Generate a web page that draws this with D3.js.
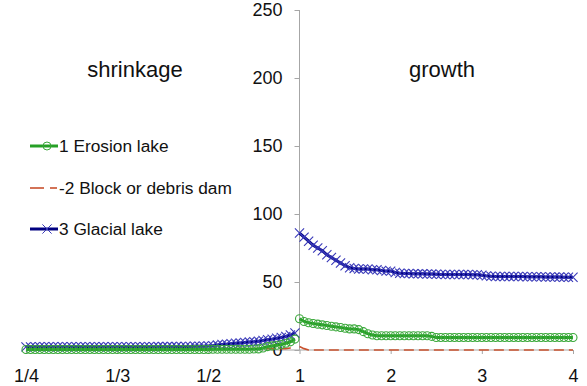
<!DOCTYPE html>
<html>
<head>
<meta charset="utf-8">
<script src="https://cdn.jsdelivr.net/npm/d3@7"></script>
<style>
  body { margin: 0; background: #fff; }
  svg { display: block; font-family: "Liberation Sans", Arial, sans-serif; }
</style>
</head>
<body>
<svg id="chart" width="587" height="386"></svg>
<script>
// x is drawn on a folded scale: ratio r >= 1 at r, ratio r < 1 at 2 - 1/r
var xTicks = [-2, -1, 0, 1, 2, 3, 4]
var xTickLabels = ["1/4", "1/3", "1/2", "1", "2", "3", "4"]
var yTicks = [0, 50, 100, 150, 200, 250]

// shrinkage side, t = -2 .. 0.95 step 0.05 (60 points)
var leftT = d3.range(60).map(function(i) { return -2 + i * 0.05 })
// growth side, t = 1 .. 4 step 0.05 (61 points)
var rightT = d3.range(61).map(function(i) { return 1 + i * 0.05 })

var erosionLeft = [
  0.4, 0.4, 0.4, 0.4, 0.4, 0.4, 0.4, 0.4, 0.4, 0.4,
  0.4, 0.4, 0.4, 0.4, 0.4, 0.4, 0.4, 0.4, 0.4, 0.4,
  0.4, 0.4, 0.4, 0.4, 0.4, 0.4, 0.4, 0.4, 0.4, 0.4,
  0.4, 0.4, 0.4, 0.4, 0.4, 0.4, 0.4, 0.4, 0.4, 0.4,
  0.4, 0.5, 0.5, 0.5, 0.5, 0.5, 0.5, 0.6, 0.6, 0.6,
  0.7, 0.8, 1.5, 2.5, 3, 3.5, 4, 5, 6, 8
]
var blockLeft = [
  0, 0, 0, 0, 0, 0, 0, 0, 0, 0,
  0, 0, 0, 0, 0, 0, 0, 0, 0, 0,
  0, 0, 0, 0, 0, 0, 0, 0, 0, 0,
  0, 0, 0, 0, 0, 0, 0, 0, 0, 0,
  0, 1, 1, 1, 1, 1, 1, 1, 1, 1,
  1, 1, 1, 1, 1, 1, 1, 1, 1.5, 2
]
var glacialLeft = [
  2.3, 2.3, 2.4, 2.4, 2.4, 2.4, 2.4, 2.4, 2.4, 2.4,
  2.4, 2.4, 2.4, 2.4, 2.4, 2.4, 2.4, 2.4, 2.4, 2.4,
  2.4, 2.4, 2.4, 2.4, 2.4, 2.4, 2.4, 2.4, 2.4, 2.5,
  2.5, 2.5, 2.5, 2.5, 2.6, 2.6, 2.6, 2.7, 2.7, 2.8,
  2.9, 3.2, 3.6, 4, 4.3, 4.6, 4.9, 5.2, 5.5, 5.8,
  6.1, 6.5, 7, 7.5, 8, 8.6, 9.2, 10, 11, 12.5
]

var erosionRight = [
  23, 21, 20, 19.5, 19, 18.5, 18, 17.5, 17, 16.5,
  16, 15.5, 15.5, 15, 13.5, 12, 11, 10.5, 10.5, 10.5,
  10.5, 10.5, 10.5, 10.5, 10.5, 10.5, 10.5, 10.5, 10.5, 10,
  9.2, 9.2, 9.2, 9.2, 9.2, 9.2, 9.2, 9.2, 9.2, 9.2,
  9.2, 9.2, 9.2, 9.2, 9.2, 9.2, 9.2, 9.2, 9.2, 9.2,
  9.2, 9.2, 9.2, 9.2, 9.2, 9.2, 9.2, 9.2, 9.2, 9.2,
  9.2
]
var blockRight = [
  2.5, 1, 0, 0, 0, 0, 0, 0, 0, 0,
  0, 0, 0, 0, 0, 0, 0, 0, 0, 0,
  0, 0, 0, 0, 0, 0, 0, 0, 0, 0,
  0, 0, 0, 0, 0, 0, 0, 0, 0, 0,
  0, 0, 0, 0, 0, 0, 0, 0, 0, 0,
  0, 0, 0, 0, 0, 0, 0, 0, 0, 0,
  0
]
var glacialRight = [
  86, 83, 80, 77, 75, 73, 70, 68, 66, 64,
  62, 60.5, 60, 59.5, 59.5, 59.5, 59, 59, 58.5, 58,
  58, 57, 56.5, 56.3, 56.2, 56, 56, 56, 55.8, 55.8,
  55.7, 55.6, 55.5, 55.5, 55.5, 55.5, 55.5, 55.5, 55.4, 55.3,
  55, 54.5, 54.2, 54, 54, 54, 54, 54, 54, 54,
  53.9, 53.9, 53.8, 53.8, 53.7, 53.7, 53.6, 53.6, 53.5, 53.5,
  53.5
]

var seriesNames = ["1 Erosion lake", "-2 Block or debris dam", "3 Glacial lake"]

var svg = d3.select("#chart")
var x = d3.scaleLinear().domain([-2, 4]).range([26, 573])
var y = d3.scaleLinear().domain([0, 250]).range([350, 10])

var axisColor = "#a6a6a6"
var green = "#26a026", greenMk = "#3aa83a"
var red = "#c9512e"
var navy = "#000080", navyMk = "#3838b8"

// axes
var xAxis = svg.append("g").attr("transform", "translate(0," + y(0) + ")")
  .call(d3.axisBottom(x).tickValues(xTicks).tickSize(4).tickPadding(15)
    .tickFormat(function(d, i) { return xTickLabels[i] }))
xAxis.select(".domain").attr("d", "M" + x(-2) + ",0H" + x(4))

var yAxis = svg.append("g").attr("transform", "translate(" + x(1) + ",0)")
  .call(d3.axisLeft(y).tickValues(yTicks).tickSize(5).tickPadding(12))
yAxis.select(".domain").attr("d", "M0," + y(250) + "V" + y(0))

svg.selectAll(".domain, .tick line").attr("stroke", axisColor)
svg.selectAll(".tick text").attr("fill", "#111").style("font-size", "18px")

// section titles
svg.append("text").attr("x", 135).attr("y", 77).attr("text-anchor", "middle")
  .style("font-size", "22px").attr("fill", "#111").text("shrinkage")
svg.append("text").attr("x", 442).attr("y", 77).attr("text-anchor", "middle")
  .style("font-size", "22px").attr("fill", "#111").text("growth")

var line = d3.line().x(function(d) { return x(d[0]) }).y(function(d) { return y(d[1]) })

function pairs(ts, vs) { return ts.map(function(t, i) { return [t, vs[i]] }) }

var plot = svg.append("g")

function drawSeries(ts, vs, kind) {
  var pts = pairs(ts, vs)
  if (kind == "block") {
    plot.append("path").datum(pts).attr("d", line).attr("fill", "none")
      .attr("stroke", red).attr("stroke-width", 1.6).attr("stroke-dasharray", "10,5")
    return
  }
  var col = kind == "erosion" ? green : navy
  plot.append("path").datum(pts).attr("d", line).attr("fill", "none")
    .attr("stroke", col).attr("stroke-width", 3)
  if (kind == "erosion") {
    plot.append("g").selectAll("circle").data(pts).enter().append("circle")
      .attr("cx", function(d) { return x(d[0]) }).attr("cy", function(d) { return y(d[1]) })
      .attr("r", 4).attr("fill", "none").attr("stroke", greenMk).attr("stroke-width", 1.1)
  } else {
    plot.append("g").selectAll("path").data(pts).enter().append("path")
      .attr("d", function(d) {
        var cx = x(d[0]), cy = y(d[1]), s = 4.6
        return "M" + (cx - s) + "," + (cy - s) + "L" + (cx + s) + "," + (cy + s) +
          "M" + (cx - s) + "," + (cy + s) + "L" + (cx + s) + "," + (cy - s)
      })
      .attr("stroke", navyMk).attr("stroke-width", 1.1).attr("fill", "none")
  }
}

drawSeries(leftT, blockLeft, "block")
drawSeries(rightT, blockRight, "block")
drawSeries(leftT, glacialLeft, "glacial")
drawSeries(rightT, glacialRight, "glacial")
drawSeries(leftT, erosionLeft, "erosion")
drawSeries(rightT, erosionRight, "erosion")

// legend
var legY = [146, 188, 229]
var kinds = ["erosion", "block", "glacial"]
var leg = svg.append("g")
kinds.forEach(function(k, i) {
  var g = leg.append("g").attr("transform", "translate(0," + legY[i] + ")")
  if (k == "block") {
    g.append("line").attr("x1", 30).attr("x2", 44).attr("y1", 0).attr("y2", 0)
      .attr("stroke", red).attr("stroke-width", 1.6)
    g.append("line").attr("x1", 50).attr("x2", 57).attr("y1", 0).attr("y2", 0)
      .attr("stroke", red).attr("stroke-width", 1.6)
  } else {
    g.append("line").attr("x1", 30).attr("x2", 58).attr("y1", 0).attr("y2", 0)
      .attr("stroke", k == "erosion" ? green : navy).attr("stroke-width", 3)
    if (k == "erosion")
      g.append("circle").attr("cx", 47).attr("cy", 0).attr("r", 4)
        .attr("fill", "none").attr("stroke", greenMk)
    else
      g.append("path").attr("d", "M42.4,-4.6L51.6,4.6M42.4,4.6L51.6,-4.6")
        .attr("stroke", navyMk).attr("fill", "none")
  }
  g.append("text").attr("x", 59).attr("y", 6).style("font-size", "17.3px")
    .attr("fill", "#111").text(seriesNames[i])
})
</script>
</body>
</html>
